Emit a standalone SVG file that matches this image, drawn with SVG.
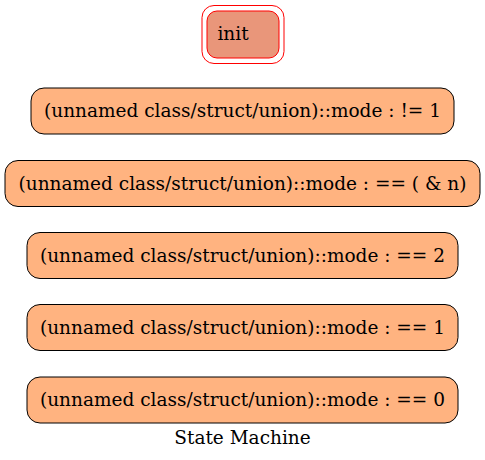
<svg xmlns="http://www.w3.org/2000/svg" width="485" height="460" viewBox="0 0 485 460">
<style>
.n{fill:#ffb380;stroke:#000;stroke-width:1}
.t{font-family:"DejaVu Serif",serif;font-size:18.5px;text-anchor:middle;fill:#000}
</style>
<rect width="485" height="460" fill="#fff"/>
<g id="init">
<rect x="202" y="5.5" width="82" height="58" rx="12" fill="none" stroke="#ff0000"/>
<rect x="207" y="11" width="72" height="47" rx="10" fill="#e9967a" stroke="#ff0000"/>
<text class="t" x="233" y="40">init</text>
</g>
<g id="connectors"></g>
<g id="s1">
<rect class="n" x="31" y="88" width="423" height="46" rx="13"/>
<text class="t" x="242.5" y="117">(unnamed class/struct/union)::mode : != 1</text>
</g>
<g id="s2">
<rect class="n" x="5" y="160.5" width="475" height="46" rx="13"/>
<text class="t" x="242.5" y="189.5">(unnamed class/struct/union)::mode : == ( &amp; n)</text>
</g>
<g id="s3">
<rect class="n" x="27" y="232.5" width="431" height="46" rx="13"/>
<text class="t" x="242.5" y="261.5">(unnamed class/struct/union)::mode : == 2</text>
</g>
<g id="s4">
<rect class="n" x="27" y="304.5" width="431" height="46" rx="13"/>
<text class="t" x="242.5" y="333.5">(unnamed class/struct/union)::mode : == 1</text>
</g>
<g id="s5">
<rect class="n" x="27" y="377" width="431" height="46" rx="13"/>
<text class="t" x="242.5" y="406">(unnamed class/struct/union)::mode : == 0</text>
</g>
<text class="t" x="242.5" y="444">State Machine</text>
</svg>
